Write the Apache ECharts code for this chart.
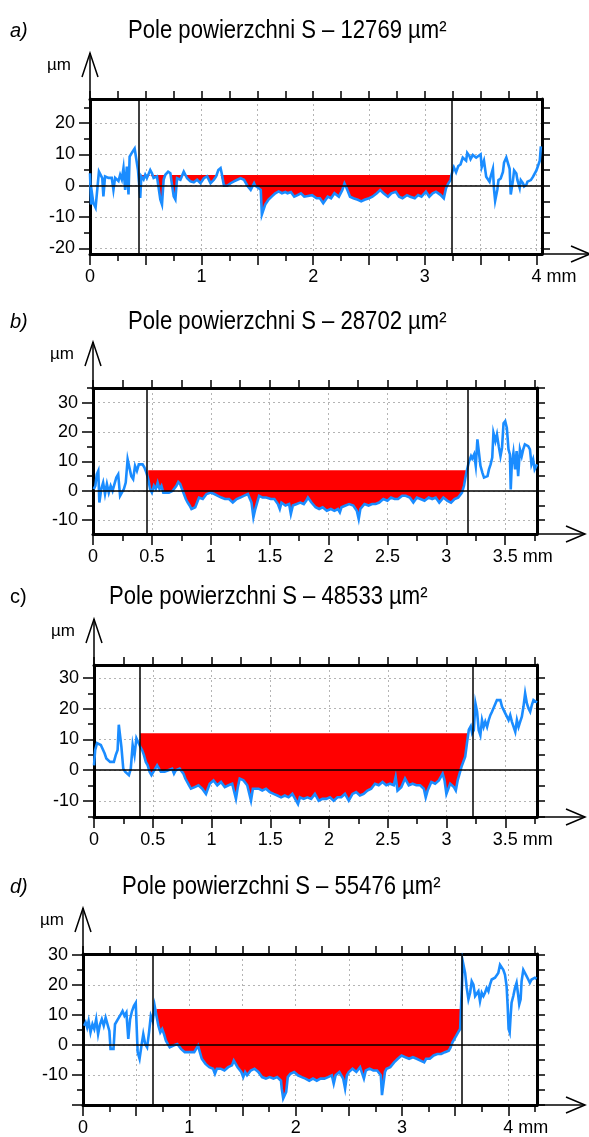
<!DOCTYPE html>
<html>
<head>
<meta charset="utf-8">
<script src="https://cdn.jsdelivr.net/npm/echarts@6/dist/echarts.min.js"></script>
<style>
  html, body { margin: 0; background: #fff; }
  #chart { width: 589px; height: 1137px; }
</style>
</head>
<body>
<div id="chart"></div>
<script>
// profile data, x in mm, y in µm
const profileA = [[0,4],[0.01,-6],[0.02,-3],[0.03,-5.5],[0.05,-7],[0.065,-7.5],[0.08,4.5],[0.09,5],[0.11,2.4],[0.12,-3.4],[0.135,3],[0.15,2.5],[0.165,2.5],[0.18,3],[0.195,2.5],[0.21,-1.3],[0.225,2.5],[0.24,3],[0.255,1.5],[0.27,3.5],[0.285,2],[0.3,5.6],[0.315,-1.3],[0.33,6.1],[0.345,-2.8],[0.355,9.3],[0.38,10.8],[0.4,11.9],[0.41,11.9],[0.43,5],[0.45,-3.9],[0.46,3],[0.48,2],[0.495,3.5],[0.51,2.5],[0.54,5],[0.555,4],[0.57,2.5],[0.6,3],[0.63,-4.4],[0.645,-6],[0.66,2],[0.675,3.5],[0.7,4.5],[0.72,4],[0.75,-3.4],[0.765,-4.4],[0.78,2.4],[0.81,1.9],[0.84,4.5],[0.87,2.4],[0.9,1.4],[0.93,1.1],[0.96,1.9],[0.99,0.8],[1.02,2.4],[1.05,3],[1.08,0.8],[1.11,1.9],[1.13,3],[1.15,5],[1.17,5.6],[1.18,4],[1.2,0],[1.23,0],[1.26,0.8],[1.29,1.4],[1.32,1.9],[1.35,2.4],[1.38,1.9],[1.41,0],[1.44,-1.3],[1.45,-1.8],[1.47,0.8],[1.48,0],[1.5,-0.5],[1.53,-1.3],[1.54,-9.2],[1.555,-9.5],[1.57,-6],[1.6,-4.4],[1.63,-3.4],[1.66,-2.4],[1.69,-1.8],[1.72,-2.4],[1.75,-2],[1.77,-2.4],[1.8,-2],[1.83,-3.5],[1.86,-3],[1.89,-2.4],[1.92,-3.5],[1.99,-3],[2.03,-4],[2.06,-4],[2.09,-5.6],[2.13,-3.5],[2.16,-4],[2.19,-2.4],[2.23,-3.5],[2.26,-1.4],[2.28,0.7],[2.3,-0.8],[2.33,-3.5],[2.36,-4],[2.4,-4.5],[2.43,-5],[2.46,-4.5],[2.5,-4],[2.53,-3.5],[2.57,-2.4],[2.6,-1.4],[2.63,-2.4],[2.67,-3.5],[2.7,-2.4],[2.74,-1.9],[2.77,-3.5],[2.8,-4],[2.84,-3],[2.87,-3.5],[2.91,-4],[2.94,-3],[2.97,-3.5],[3.01,-1.9],[3.04,-3.5],[3.07,-2.4],[3.1,-1.9],[3.14,-2.9],[3.17,-4],[3.19,-0.8],[3.21,0.7],[3.23,1.8],[3.24,3.5],[3.25,4.9],[3.26,5.9],[3.28,4.3],[3.29,5.3],[3.3,6.3],[3.32,6.8],[3.34,9],[3.35,9.5],[3.37,8],[3.38,10.5],[3.4,9.5],[3.41,8.5],[3.43,9.8],[3.46,9],[3.48,9.5],[3.5,10],[3.51,5.9],[3.53,8],[3.55,2.9],[3.56,2.3],[3.58,1.3],[3.59,2.9],[3.61,5.4],[3.62,-1.2],[3.63,-4.8],[3.65,-1.2],[3.66,1.8],[3.68,2.3],[3.7,4.4],[3.71,7.4],[3.73,9],[3.74,9.5],[3.76,5.4],[3.77,-2.8],[3.79,1.8],[3.8,4.9],[3.82,3.9],[3.83,1.8],[3.85,-0.7],[3.86,1.8],[3.88,0.8],[3.89,-0.2],[3.91,0.3],[3.92,1.3],[3.95,1.8],[3.97,2.9],[3.98,3.4],[4,4.9],[4.01,5.9],[4.03,8],[4.04,12.6]];

const profileB = [[0.006,0.6],[0.02,1.7],[0.032,5.6],[0.045,6.8],[0.054,-4],[0.07,0.6],[0.086,2.8],[0.102,-1.1],[0.118,2.3],[0.134,-0.6],[0.15,1.7],[0.166,0],[0.182,2.3],[0.198,4.5],[0.214,5.6],[0.23,-1.7],[0.246,-2.3],[0.262,0.6],[0.278,2.8],[0.294,10.7],[0.31,10.2],[0.325,5],[0.341,4],[0.357,8.5],[0.373,6.8],[0.389,9],[0.405,8.5],[0.421,9],[0.437,7.9],[0.453,6.2],[0.469,4],[0.485,0.6],[0.5,-0.6],[0.517,1.7],[0.533,0.6],[0.549,2.8],[0.565,0.6],[0.581,1.7],[0.597,-0.6],[0.613,0],[0.645,-0.6],[0.677,0],[0.708,1.7],[0.724,3],[0.74,2.3],[0.756,0.6],[0.772,-1.1],[0.788,-2.8],[0.804,-4],[0.82,-5],[0.836,-6.2],[0.868,-5.6],[0.884,-4],[0.9,-2.3],[0.932,-2.8],[0.964,-1.1],[1,-0.6],[1.03,-1.1],[1.06,-1.7],[1.09,-2.3],[1.12,-2.8],[1.155,-2.8],[1.187,-4],[1.22,-2.8],[1.25,-2.3],[1.28,-1.7],[1.315,-1.1],[1.346,-4],[1.362,-9],[1.378,-6.2],[1.41,-1.7],[1.44,-2.3],[1.47,-2.3],[1.51,-2.8],[1.54,-2.8],[1.57,-4.5],[1.586,-6.2],[1.6,-4],[1.634,-5],[1.665,-4.5],[1.68,-7.9],[1.697,-5],[1.73,-4.5],[1.76,-4],[1.79,-4.5],[1.81,-3.4],[1.825,-2.3],[1.855,-4],[1.89,-5.6],[1.92,-6.2],[1.95,-5.6],[1.985,-6.8],[2.02,-6.2],[2.05,-6.8],[2.08,-6.2],[2.096,-7.3],[2.11,-5.6],[2.145,-5],[2.175,-4.5],[2.21,-5],[2.24,-6.8],[2.256,-9.6],[2.27,-6.2],[2.305,-4.5],[2.34,-5],[2.37,-4.5],[2.4,-4.5],[2.43,-4],[2.465,-2.8],[2.5,-3.4],[2.53,-2.3],[2.56,-2.8],[2.59,-2.8],[2.625,-1.7],[2.655,-1.7],[2.69,-2.3],[2.72,-4],[2.75,-2.3],[2.78,-2.8],[2.815,-3.4],[2.85,-2.3],[2.88,-2.8],[2.91,-2.3],[2.94,-4],[2.975,-2.3],[3.01,-3.4],[3.04,-4],[3.07,-2.8],[3.1,-2.3],[3.133,-0.6],[3.15,1.7],[3.165,5.1],[3.175,7],[3.19,9.6],[3.21,11.8],[3.22,11],[3.236,12.4],[3.25,8.5],[3.264,17.5],[3.278,18],[3.29,8.5],[3.306,6.2],[3.32,4.5],[3.334,3.9],[3.35,5],[3.362,7.3],[3.376,9],[3.39,11.3],[3.4,19.7],[3.417,16.9],[3.43,19.2],[3.445,15.2],[3.46,11.8],[3.473,14.6],[3.486,23],[3.5,23.7],[3.514,21.4],[3.528,14.1],[3.54,12.4],[3.547,0.5],[3.556,9],[3.57,13],[3.584,7.3],[3.597,13.5],[3.61,5],[3.625,14.1],[3.64,11.8],[3.653,14.1],[3.667,15.8],[3.68,16.3],[3.695,15.2],[3.71,14.1],[3.723,9],[3.737,10.7],[3.75,7.3],[3.77,9]];

const profileC = [[0,1.6],[0.01,6.6],[0.026,8.8],[0.042,9.3],[0.058,8.2],[0.074,8.8],[0.09,5.5],[0.105,3.8],[0.121,3.3],[0.137,2.7],[0.153,2.2],[0.169,2.7],[0.185,4.9],[0.201,6.6],[0.211,14.8],[0.224,14.8],[0.233,7.7],[0.249,0.5],[0.265,-0.5],[0.281,-1.1],[0.297,-1.6],[0.313,0.5],[0.329,8.2],[0.345,4.9],[0.361,10.4],[0.377,9.9],[0.393,7.7],[0.409,6.6],[0.425,4.9],[0.441,2.7],[0.457,1.6],[0.473,-0.5],[0.489,-1.6],[0.505,-1.1],[0.537,1.6],[0.553,0.5],[0.569,-0.5],[0.585,-1.1],[0.601,-0.5],[0.633,0],[0.665,0.5],[0.681,-1.1],[0.697,0],[0.729,0.5],[0.745,1.1],[0.761,-1.1],[0.777,-2.7],[0.793,-3.8],[0.809,-4.9],[0.825,-6],[0.857,-5.5],[0.889,-4.9],[0.921,-6],[0.953,-7.7],[0.969,-6],[0.985,-4.4],[1.017,-3.3],[1.049,-4.9],[1.081,-3.8],[1.113,-5.5],[1.145,-4.9],[1.176,-4.4],[1.208,-9.3],[1.224,-5.5],[1.24,-2.7],[1.272,-3.3],[1.304,-4.9],[1.336,-9.9],[1.352,-6],[1.368,-6.6],[1.4,-6],[1.432,-6.6],[1.464,-6],[1.496,-7.1],[1.528,-7.7],[1.56,-8.2],[1.592,-8.8],[1.624,-8.2],[1.656,-8.8],[1.688,-7.7],[1.72,-9.9],[1.736,-11],[1.752,-8.8],[1.784,-9.3],[1.816,-8.8],[1.848,-9.3],[1.88,-7.7],[1.912,-9.9],[1.944,-9.3],[1.976,-9.3],[2.008,-8.8],[2.04,-9.9],[2.072,-8.8],[2.104,-8.8],[2.136,-7.7],[2.168,-9.9],[2.2,-7.7],[2.231,-7.1],[2.263,-8.2],[2.295,-7.7],[2.327,-6.6],[2.359,-6],[2.391,-4.4],[2.423,-4.9],[2.455,-3.8],[2.487,-4.9],[2.519,-4.4],[2.551,-4.9],[2.567,-2.2],[2.583,-6.6],[2.615,-5.5],[2.647,-2.7],[2.679,-4.9],[2.711,-4.4],[2.743,-4.9],[2.775,-4.9],[2.807,-6],[2.823,-8.8],[2.839,-6.6],[2.871,-3.8],[2.903,-4.4],[2.935,-3.3],[2.967,-1.1],[2.983,-3.3],[2.999,-7.7],[3.031,-4.4],[3.063,-5.5],[3.079,-6.6],[3.095,-3.3],[3.111,-2.7],[3.127,1.1],[3.159,4.4],[3.174,8.8],[3.19,13.2],[3.206,14.3],[3.218,12],[3.232,13],[3.246,21.7],[3.26,19],[3.274,13],[3.288,11.4],[3.302,16.3],[3.316,14.1],[3.33,15.8],[3.345,14.1],[3.359,16.3],[3.373,17.9],[3.387,19],[3.401,19.6],[3.429,22.8],[3.444,23.4],[3.458,22.8],[3.472,20.7],[3.486,20.1],[3.5,18.5],[3.514,17.4],[3.528,16.3],[3.542,17.9],[3.556,15.8],[3.571,14.1],[3.585,12.5],[3.599,16.3],[3.613,14.1],[3.627,15.8],[3.641,17.4],[3.655,20.7],[3.669,25],[3.684,21.7],[3.698,20.1],[3.712,19],[3.726,21.2],[3.74,22.8],[3.77,22]];

const profileD = [[0.011,6.4],[0.025,7.5],[0.039,5.8],[0.053,8],[0.071,4.2],[0.089,6.9],[0.106,5.3],[0.124,8.6],[0.142,3.6],[0.16,6.9],[0.177,8.6],[0.195,6.4],[0.213,9.1],[0.23,9.1],[0.248,4.7],[0.259,-1.3],[0.287,-1.3],[0.301,6.9],[0.319,7.5],[0.337,9.1],[0.355,10.2],[0.372,11.3],[0.39,9.7],[0.408,10.8],[0.426,2],[0.443,8.6],[0.461,11.3],[0.479,13],[0.496,14],[0.514,-2.4],[0.532,-4.6],[0.55,-0.2],[0.567,3.6],[0.585,0.3],[0.603,-0.8],[0.621,4.2],[0.638,9.7],[0.656,8],[0.674,13],[0.691,9.7],[0.709,6.4],[0.727,4.2],[0.745,5.3],[0.762,3.6],[0.78,1.4],[0.798,0.3],[0.816,-0.8],[0.851,-0.2],[0.869,-0.8],[0.887,0.3],[0.904,0.9],[0.922,-1.3],[0.94,-1.9],[0.957,-2.4],[0.975,-3],[0.993,-2.4],[1.011,-3],[1.046,-2.4],[1.064,-1.9],[1.082,-0.2],[1.099,-2.4],[1.117,-4.6],[1.152,-6.3],[1.188,-7.4],[1.223,-7.9],[1.241,-9.6],[1.259,-7.9],[1.294,-7.9],[1.33,-8.5],[1.365,-7.4],[1.401,-6.8],[1.418,-5.2],[1.436,-5.8],[1.454,-7.4],[1.489,-9],[1.507,-10.7],[1.525,-9],[1.543,-10.1],[1.578,-8.5],[1.613,-7.9],[1.649,-9],[1.684,-10.7],[1.72,-11.2],[1.755,-10.7],[1.791,-11.2],[1.826,-10.7],[1.862,-11.9],[1.869,-14.5],[1.883,-17.8],[1.897,-18.4],[1.911,-15.6],[1.926,-10.7],[1.95,-9.6],[1.986,-9],[2.021,-10.1],[2.057,-10.7],[2.092,-11.2],[2.128,-11.9],[2.163,-11.2],[2.199,-11.9],[2.234,-11.2],[2.27,-11.2],[2.305,-10.7],[2.34,-10.1],[2.358,-12.9],[2.376,-10.1],[2.411,-9],[2.429,-8.5],[2.447,-11.2],[2.465,-14.5],[2.482,-10.1],[2.5,-9],[2.535,-7.9],[2.571,-9],[2.606,-7.4],[2.642,-11.2],[2.66,-8.5],[2.695,-7.9],[2.73,-8.5],[2.766,-8.5],[2.784,-7.9],[2.801,-10.1],[2.812,-16.7],[2.826,-17.3],[2.84,-9],[2.855,-7.9],[2.89,-7.4],[2.926,-5.8],[2.961,-4.6],[2.979,-4.1],[2.996,-3.5],[3.032,-4.1],[3.067,-4.6],[3.103,-4.1],[3.138,-4.6],[3.174,-5.2],[3.209,-5.8],[3.227,-4.6],[3.262,-4.6],[3.298,-3.5],[3.333,-3],[3.369,-3],[3.404,-2.4],[3.44,-1.9],[3.457,-0.8],[3.475,0.9],[3.493,2],[3.511,3.1],[3.528,4.2],[3.547,5.3],[3.553,10.8],[3.563,18.5],[3.572,27.8],[3.584,28.4],[3.594,24],[3.609,19],[3.625,15.2],[3.641,17.4],[3.656,21.2],[3.672,20.1],[3.688,16.3],[3.703,16.3],[3.719,17.9],[3.734,14.6],[3.75,17.4],[3.766,16.3],[3.781,17.4],[3.797,19],[3.813,17.9],[3.828,20.1],[3.844,21.8],[3.859,21.8],[3.875,22.4],[3.891,22.9],[3.906,24],[3.922,26.7],[3.938,26.2],[3.953,25],[3.969,23.4],[3.984,19.6],[3.994,13],[4.003,5.3],[4.013,4.2],[4.022,9.7],[4.031,14.1],[4.047,16.3],[4.063,19],[4.078,20.7],[4.094,16.3],[4.103,13.5],[4.116,15.2],[4.125,21.2],[4.141,25],[4.156,24.5],[4.172,22.9],[4.188,21.8],[4.203,20.7],[4.219,21.8],[4.234,21.2],[4.25,22.4],[4.266,22]];

const profiles = [profileA, profileB, profileC, profileD];
const panelLetters = ['a)', 'b)', 'c)', 'd)'];
const areaValues = [12769, 28702, 48533, 55476];
const fillLevels = [3.4, 7, 12, 12];
const fillRanges = [[0.46, 3.23], [0.465, 3.17], [0.39, 3.21], [0.69, 3.55]];
const cutLines = [[0.44, 3.24], [0.455, 3.18], [0.387, 3.22], [0.663, 3.557]];
const xExtents = [[0, 4.05], [0, 3.77], [0, 3.77], [0, 4.27]];
const yExtents = [[-21.8, 27.7], [-14.7, 35], [-15.2, 34.2], [-20, 30.3]];
const xLabelValues = [[0, 1, 2, 3, 4], [0, 0.5, 1, 1.5, 2, 2.5, 3, 3.5], [0, 0.5, 1, 1.5, 2, 2.5, 3, 3.5], [0, 1, 2, 3, 4]];
const yLabelValues = [[-20, -10, 0, 10, 20], [-10, 0, 10, 20, 30], [-10, 0, 10, 20, 30], [-10, 0, 10, 20, 30]];
const xGridStep = [1, 0.5, 0.5, 1];

// layout
const grids = [
  { left: 90, top: 99, width: 452, height: 155 },
  { left: 93, top: 388, width: 444, height: 146 },
  { left: 94, top: 665, width: 443, height: 152 },
  { left: 83, top: 954, width: 454, height: 153 }
];
const titleLeft = [128, 128, 109, 122];
const titleY = [31, 322, 597, 887];
const FONT = '"Liberation Sans", Arial, sans-serif';
const BLUE = '#1a8cff';
const LABEL_SIZE = 18;

function steps(lo, hi, step) {
  const out = [];
  for (let k = Math.ceil(lo / step - 1e-6); k * step <= hi + 1e-6; k++) out.push(+(k * step).toFixed(4));
  return out;
}
const isMult = (v, s) => Math.abs(v / s - Math.round(v / s)) < 1e-6;

const xAxis = [], yAxis = [], series = [];
grids.forEach((g, i) => {
  const [x0, x1] = xExtents[i];
  const [y0, y1] = yExtents[i];
  const q = steps(x0, x1, 0.25);
  const xMajor = q.filter(v => isMult(v, 0.5));
  const xMinor = q.filter(v => !isMult(v, 0.5));
  const f = steps(y0, y1, 5);
  const yMajor = f.filter(v => isMult(v, 10));
  const yMinor = f.filter(v => !isMult(v, 10));
  const line = (w) => ({ show: true, onZero: false, lineStyle: { color: '#000', width: w } });
  const tick = (vals, len) => ({ show: true, customValues: vals, length: len, lineStyle: { color: '#000', width: 1.5 } });
  const dotted = { show: true, lineStyle: { type: [2, 3], color: '#b4b4b4', width: 1 } };

  xAxis.push(
    { gridIndex: i, type: 'value', min: x0, max: x1, position: 'bottom',
      minInterval: xGridStep[i], maxInterval: xGridStep[i],
      axisLine: line(3), axisTick: tick(xMajor, 11),
      axisLabel: { customValues: xLabelValues[i], margin: 14, fontSize: LABEL_SIZE, color: '#000', fontFamily: FONT,
        formatter: v => String(v) },
      splitLine: dotted },
    { gridIndex: i, type: 'value', min: x0, max: x1, position: 'bottom',
      axisLine: { show: false, onZero: false }, axisTick: tick(xMinor, 7),
      axisLabel: { show: false }, splitLine: { show: false } },
    { gridIndex: i, type: 'value', min: x0, max: x1, position: 'top',
      axisLine: line(3), axisTick: tick(q, 8),
      axisLabel: { show: false }, splitLine: { show: false } }
  );
  yAxis.push(
    { gridIndex: i, type: 'value', min: y0, max: y1, position: 'left',
      minInterval: 10, maxInterval: 10,
      axisLine: line(3), axisTick: tick(yMajor, 11),
      axisLabel: { customValues: yLabelValues[i], margin: 15, fontSize: LABEL_SIZE, color: '#000', fontFamily: FONT },
      splitLine: dotted },
    { gridIndex: i, type: 'value', min: y0, max: y1, position: 'left',
      axisLine: { show: false, onZero: false }, axisTick: tick(yMinor, 6),
      axisLabel: { show: false }, splitLine: { show: false } },
    { gridIndex: i, type: 'value', min: y0, max: y1, position: 'right',
      axisLine: line(3), axisTick: tick(f, 8),
      axisLabel: { show: false }, splitLine: { show: false } }
  );

  const level = fillLevels[i];
  const [r0, r1] = fillRanges[i];
  const fill = profiles[i].filter(p => p[0] >= r0 && p[0] <= r1).map(p => [p[0], Math.min(p[1], level)]);

  series.push(
    { type: 'line', xAxisIndex: 3 * i, yAxisIndex: 3 * i, data: fill, showSymbol: false, silent: true,
      lineStyle: { width: 0 }, areaStyle: { color: '#ff0000', opacity: 1, origin: level }, z: 2 },
    { type: 'line', xAxisIndex: 3 * i, yAxisIndex: 3 * i, data: profiles[i], showSymbol: false, silent: true,
      lineStyle: { color: BLUE, width: 2.6, join: 'miter' }, z: 3,
      markLine: { silent: true, symbol: ['none', 'none'], label: { show: false },
        lineStyle: { color: '#000', width: 1.5, type: 'solid' },
        data: [{ yAxis: 0 }, { xAxis: cutLines[i][0] }, { xAxis: cutLines[i][1] }] } }
  );
});

const chart = echarts.init(document.getElementById('chart'));
chart.setOption({
  animation: false,
  backgroundColor: '#fff',
  grid: grids.map(g => Object.assign({ containLabel: false }, g)),
  xAxis, yAxis, series
});

// decorations: axis arrows, unit labels, panel titles
const ctx = document.createElement('canvas').getContext('2d');
ctx.font = LABEL_SIZE + 'px ' + FONT;
const graphic = [];
grids.forEach((g, i) => {
  const px = (x, y) => chart.convertToPixel({ xAxisIndex: 3 * i, yAxisIndex: 3 * i }, [x, y]);
  const [l, b] = px(xExtents[i][0], yExtents[i][0]);
  const [r, t] = px(xExtents[i][1], yExtents[i][1]);
  const tipX = r + 48, tipY = t - 46;
  const ls = { stroke: '#000', lineWidth: 1.5, fill: null };
  graphic.push(
    { type: 'line', shape: { x1: r, y1: b, x2: tipX, y2: b }, style: ls },
    { type: 'polyline', shape: { points: [[tipX - 19, b - 8], [tipX, b], [tipX - 19, b + 8]] }, style: ls },
    { type: 'line', shape: { x1: l, y1: t, x2: l, y2: tipY }, style: ls },
    { type: 'polyline', shape: { points: [[l - 8, tipY + 24], [l, tipY], [l + 8, tipY + 24]] }, style: ls },
    { type: 'text', x: l - 19, y: t - 34,
      style: { text: 'µm', font: '17px ' + FONT, fill: '#000', align: 'right', verticalAlign: 'middle', textAlign: 'right', textVerticalAlign: 'middle' } }
  );
  const lastV = xLabelValues[i][xLabelValues[i].length - 1];
  const [lx] = px(lastV, 0);
  const w = ctx.measureText(String(lastV)).width;
  graphic.push({ type: 'text', x: lx + w / 2 + 5, y: b + 14,
    style: { text: 'mm', font: LABEL_SIZE + 'px ' + FONT, fill: '#000', align: 'left', verticalAlign: 'top', textAlign: 'left', textVerticalAlign: 'top' } });
  graphic.push(
    { type: 'text', x: 10, y: titleY[i],
      style: { text: panelLetters[i], font: (i === 2 ? '' : 'italic ') + '20px ' + FONT, fill: '#000', align: 'left', verticalAlign: 'middle', textAlign: 'left', textVerticalAlign: 'middle' } },
    { type: 'text', x: titleLeft[i], y: titleY[i], scaleX: 0.85,
      style: { text: 'Pole powierzchni S – ' + areaValues[i] + ' µm²', font: '26px ' + FONT, fill: '#000', align: 'left', verticalAlign: 'middle', textAlign: 'left', textVerticalAlign: 'middle' } }
  );
});
chart.setOption({ graphic });
</script>
</body>
</html>
